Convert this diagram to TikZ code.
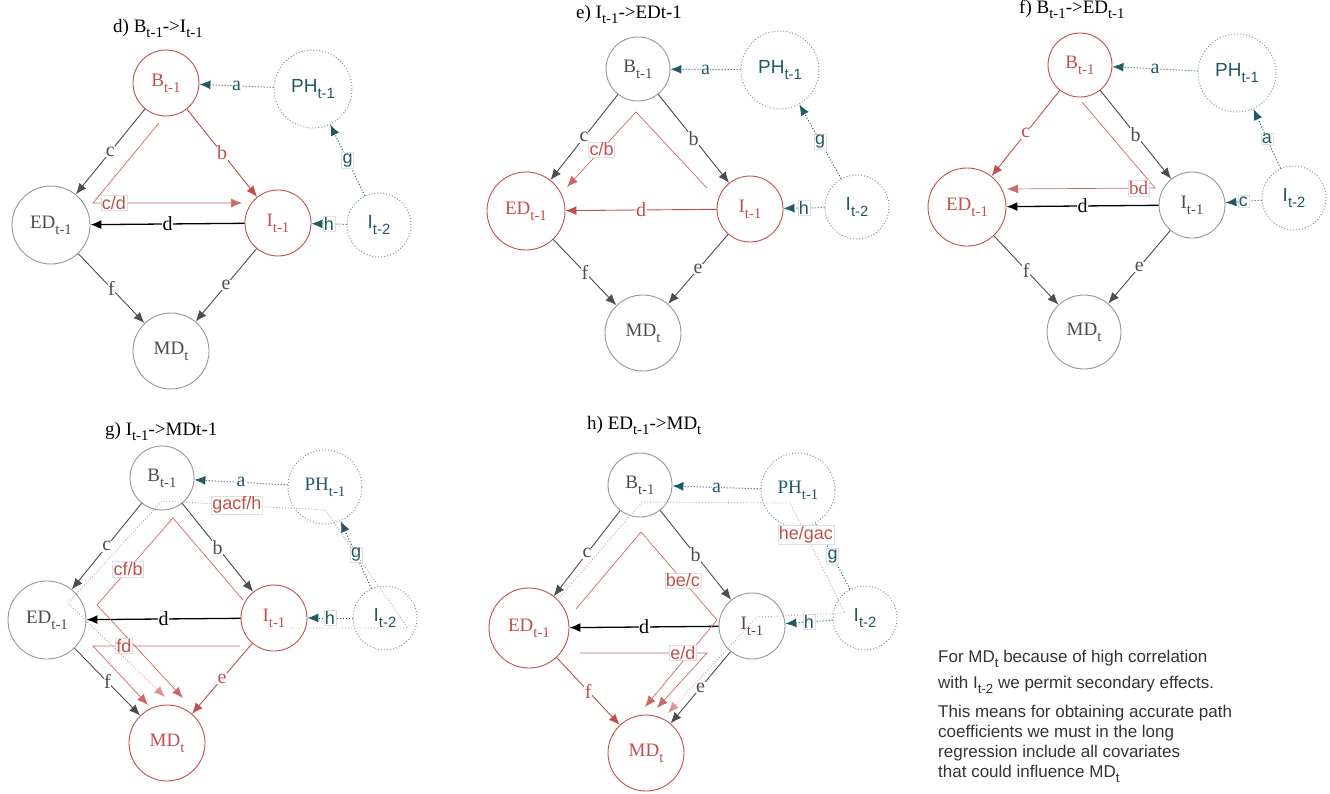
\documentclass[tikz,border=0pt]{standalone}
\usepackage{fontspec}
\setmainfont{Liberation Serif}
\setsansfont{Liberation Sans}
\usetikzlibrary{arrows.meta}
\definecolor{ringgray}{HTML}{969696}
\definecolor{inkgray}{HTML}{4D4D4D}
\definecolor{hotred}{HTML}{C0504D}
\definecolor{deepteal}{HTML}{215967}
\definecolor{palteal}{HTML}{7A9CA4}
\newcommand{\lo}[1]{\raisebox{-0.3em}{\scalebox{0.78}{#1}}}
\tikzset{>={Latex[length=11pt,width=9pt]}}
\tikzset{
  var/.style={circle, draw=ringgray, line width=0.9pt, text=inkgray, minimum size=66pt, inner sep=0pt, font=\fontsize{19}{22}\selectfont},
  hot/.style={var, draw=hotred, text=hotred},
  ext/.style={circle, draw=palteal, dotted, line width=1pt, text=deepteal, minimum size=66pt, inner sep=0pt, font=\sffamily\fontsize{19}{22}\selectfont},
  title/.style={anchor=base west, inner sep=0pt, font=\fontsize{19}{22}\selectfont},
  lnk/.style={->, draw=inkgray, line width=0.9pt},
  hotlnk/.style={->, draw=hotred, line width=0.9pt},
  blk/.style={->, draw=black, line width=1.3pt},
  extlnk/.style={->, draw=deepteal, dotted, line width=1pt},
  lab/.style={fill=white, inner sep=0.5pt, text=inkgray, font=\fontsize{20}{22}\selectfont},
  hotlab/.style={lab, text=hotred},
  tserif/.style={lab, text=deepteal},
  tlab/.style={solid, fill=white, draw=gray!25, line width=0.5pt, inner sep=1pt, text=deepteal, font=\sffamily\fontsize{18}{20}\selectfont},
  box/.style={solid, fill=white, draw=gray!25, line width=0.5pt, inner sep=1pt, text=hotred, font=\sffamily\fontsize{18}{20}\selectfont},
  hotpath/.style={->, draw=hotred!85, line width=0.7pt},
  dotpath/.style={->, draw=hotred!60, dotted, line width=0.9pt},
  note/.style={anchor=base west, inner sep=0pt, text=black!80, font=\sffamily\fontsize{17}{20}\selectfont},
}

\begin{document}
\begin{tikzpicture}[x=1pt,y=-1pt]
	\useasboundingbox (0,0) rectangle (1330,793);

	% d) B -> I
	\node[title] (dT) at (113,32) {d) B\lo{t-1}->I\lo{t-1}};
	\node[hot] (dB) at (166,83) {B\lo{t-1}};
	\node[ext, minimum size=78pt] (dPH) at (313,89) {PH\lo{t-1}};
	\node[var, minimum size=78pt] (dED) at (51,225) {ED\lo{t-1}};
	\node[hot] (dI) at (278,223) {I\lo{t-1}};
	\node[ext, minimum size=64pt] (dIt) at (379,225) {I\lo{t-2}};
	\node[var, minimum size=76pt] (dMD) at (171,351) {MD\lo{t}};

	\draw[extlnk] (dPH) -- node[tserif]{a} (dB);
	\draw[extlnk] (dIt) -- node[tlab]{g} (dPH);
	\draw[extlnk] (dIt) -- node[tlab]{h} (dI);
	\draw[lnk] (dB) -- node[lab]{c} (dED);
	\draw[hotlnk] (dB) -- node[hotlab]{b} (dI);
	\draw[lnk] (dED) -- node[lab]{f} (dMD);
	\draw[lnk] (dI) -- node[lab]{e} (dMD);
	\draw[blk] (dI) -- node[lab, text=black]{d} (dED);

	\coordinate (dc1) at (159,123);
	\coordinate (dc2) at (93,203);
	\coordinate (dc3) at (242,203);
	\draw[hotpath] (dc1) -- (dc2) -- node[pos=0.14, box]{c/d} (dc3);

	% e) I -> ED
	\node[title] (eT) at (576,18) {e) I\lo{t-1}->EDt-1};
	\node[var, minimum size=64pt] (eB) at (638,69) {B\lo{t-1}};
	\node[ext, minimum size=78pt] (ePH) at (780,70) {PH\lo{t-1}};
	\node[hot, minimum size=78pt] (eED) at (526,211) {ED\lo{t-1}};
	\node[hot] (eI) at (750,209) {I\lo{t-1}};
	\node[ext, minimum size=64pt] (eIt) at (857,207) {I\lo{t-2}};
	\node[var, minimum size=76pt] (eMD) at (643,333) {MD\lo{t}};

	\draw[extlnk] (ePH) -- node[tserif]{a} (eB);
	\draw[extlnk] (eIt) -- node[tlab]{g} (ePH);
	\draw[extlnk] (eIt) -- node[tlab]{h} (eI);
	\draw[lnk] (eB) -- node[lab]{c} (eED);
	\draw[lnk] (eB) -- node[lab]{b} (eI);
	\draw[lnk] (eED) -- node[lab]{f} (eMD);
	\draw[lnk] (eI) -- node[lab]{e} (eMD);
	\draw[hotlnk] (eI) -- node[hotlab]{d} (eED);

	\coordinate (ec1) at (707,188);
	\coordinate (ec2) at (636,112);
	\coordinate (ec3) at (567,187);
	\draw[hotpath] (ec1) -- (ec2) -- node[box]{c/b} (ec3);

	% f) B -> ED
	\node[title] (fT) at (1019,13) {f) B\lo{t-1}->ED\lo{t-1}};
	\node[hot, minimum size=64pt] (fB) at (1080,65) {B\lo{t-1}};
	\node[ext, minimum size=78pt] (fPH) at (1237,73) {PH\lo{t-1}};
	\node[hot, minimum size=78pt] (fED) at (967,207) {ED\lo{t-1}};
	\node[var] (fI) at (1192,205) {I\lo{t-1}};
	\node[ext, minimum size=64pt] (fIt) at (1294,198) {I\lo{t-2}};
	\node[var, minimum size=74pt] (fMD) at (1084,332) {MD\lo{t}};

	\draw[extlnk] (fPH) -- node[tserif]{a} (fB);
	\draw[extlnk] (fIt) -- node[tlab]{a} (fPH);
	\draw[extlnk] (fIt) -- node[tlab]{c} (fI);
	\draw[hotlnk] (fB) -- node[hotlab]{c} (fED);
	\draw[lnk] (fB) -- node[lab]{b} (fI);
	\draw[lnk] (fED) -- node[lab]{f} (fMD);
	\draw[lnk] (fI) -- node[lab]{e} (fMD);
	\draw[blk] (fI) -- node[lab, text=black]{d} (fED);

	\coordinate (fc1) at (1082,102);
	\coordinate (fc2) at (1155,188);
	\coordinate (fc3) at (1007,189);
	\draw[hotpath] (fc1) -- (fc2) -- node[pos=0.11, box, font=\fontsize{19}{22}\selectfont]{bd} (fc3);

	% g) I -> MD
	\node[title] (gT) at (105,435) {g) I\lo{t-1}->MDt-1};
	\node[var, minimum size=64pt] (gB) at (162,478) {B\lo{t-1}};
	\node[ext, minimum size=74pt, font=\fontsize{19}{22}\selectfont] (gPH) at (325,487) {PH\lo{t-1}};
	\node[var, minimum size=78pt] (gED) at (47,620) {ED\lo{t-1}};
	\node[hot] (gI) at (274,618) {I\lo{t-1}};
	\node[ext, minimum size=64pt] (gIt) at (385,618) {I\lo{t-2}};
	\node[hot, minimum size=76pt] (gMD) at (167,743) {MD\lo{t}};

	\draw[extlnk] (gPH) -- node[tserif]{a} (gB);
	\draw[extlnk] (gIt) -- node[tlab]{g} (gPH);
	\draw[extlnk] (gIt) -- node[tlab]{h} (gI);
	\draw[lnk] (gB) -- node[lab]{c} (gED);
	\draw[lnk] (gB) -- node[lab]{b} (gI);
	\draw[lnk] (gED) -- node[lab]{f} (gMD);
	\draw[hotlnk] (gI) -- node[hotlab]{e} (gMD);
	\draw[blk] (gI) -- node[lab, text=black]{d} (gED);

	\coordinate (gc1) at (243,600);
	\coordinate (gc2) at (173,518);
	\coordinate (gc3) at (97,605);
	\coordinate (gc4) at (183,698);
	\draw[hotpath] (gc1) -- (gc2) -- node[pos=0.59, box]{cf/b} (gc3) -- (gc4);
	\coordinate (gf1) at (240,646);
	\coordinate (gf2) at (93,646);
	\coordinate (gf3) at (148,705);
	\draw[hotpath] (gf1) -- node[pos=0.79, box]{fd} (gf2) -- (gf3);
	\coordinate (gg1) at (290,628);
	\coordinate (gg2) at (408,628);
	\coordinate (gg3) at (325,510);
	\coordinate (gg4) at (162,501);
	\coordinate (gg5) at (68,603);
	\coordinate (gg6) at (165,697);
	\draw[dotpath] (gg1) -- (gg2) -- (gg3) -- node[pos=0.54, box]{gacf/h} (gg4) -- (gg5) -- (gg6);

	% h) ED -> MD
	\node[title] (hT) at (587,429) {h) ED\lo{t-1}->MD\lo{t}};
	\node[var, minimum size=64pt] (hB) at (640,485) {B\lo{t-1}};
	\node[ext, minimum size=74pt, font=\fontsize{19}{22}\selectfont] (hPH) at (798,490) {PH\lo{t-1}};
	\node[hot, minimum size=80pt] (hED) at (529,628) {ED\lo{t-1}};
	\node[var] (hI) at (752,626) {I\lo{t-1}};
	\node[ext, minimum size=64pt] (hIt) at (865,618) {I\lo{t-2}};
	\node[hot, minimum size=76pt] (hMD) at (646,753) {MD\lo{t}};

	\draw[extlnk] (hPH) -- node[tserif]{a} (hB);
	\draw[extlnk] (hIt) -- node[tlab]{g} (hPH);
	\draw[extlnk] (hIt) -- node[tlab]{h} (hI);
	\draw[lnk] (hB) -- node[lab]{c} (hED);
	\draw[lnk] (hB) -- node[lab]{b} (hI);
	\draw[hotlnk] (hED) -- node[hotlab]{f} (hMD);
	\draw[lnk] (hI) -- node[lab]{e} (hMD);
	\draw[blk] (hI) -- node[lab, text=black]{d} (hED);

	\coordinate (hb1) at (576,609);
	\coordinate (hb2) at (641,532);
	\coordinate (hb3) at (717,620);
	\coordinate (hb4) at (645,707);
	\draw[hotpath] (hb1) -- (hb2) -- node[pos=0.55, box]{be/c} (hb3) -- (hb4);
	\coordinate (he1) at (580,653);
	\coordinate (he2) at (707,653);
	\coordinate (he3) at (657,708);
	\draw[hotpath] (he1) -- node[pos=0.81, box]{e/d} (he2) -- (he3);
	\coordinate (hh1) at (560,597);
	\coordinate (hh2) at (642,502);
	\coordinate (hh3) at (790,503);
	\coordinate (hh4) at (845,613);
	\coordinate (hh5) at (757,617);
	\coordinate (hh6) at (668,713);
	\draw[dotpath] (hh1) -- (hh2) -- (hh3) -- node[pos=0.29, box]{he/gac} (hh4) -- (hh5) -- (hh6);

	% note
	\node[note] (n1) at (938,662) {For MD\lo{t} because of high correlation};
	\node[note] (n2) at (938,688) {with I\lo{t-2} we permit secondary effects.};
	\node[note] (n3) at (938,717) {This means for obtaining accurate path};
	\node[note] (n4) at (938,737) {coefficients we must in the long};
	\node[note] (n5) at (938,757) {regression include all covariates};
	\node[note] (n6) at (938,777) {that could influence MD\lo{t}};
\end{tikzpicture}
\end{document}
